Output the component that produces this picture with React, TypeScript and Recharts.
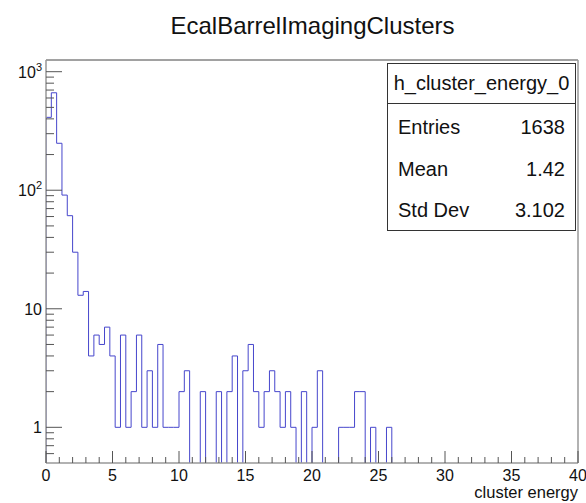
import { ComposedChart, Line, XAxis, YAxis, ReferenceLine } from 'recharts';

const title = 'EcalBarrelImagingClusters';
const xTitle = 'cluster energy';
const histName = 'h_cluster_energy_0';
const statLabels = ['Entries', 'Mean', 'Std Dev'];
const statValues = ['1638', '1.42', '3.102'];

// 100 bins of 0.4 from 0 to 40
const binWidth = 0.4;
const counts = [
    412, 664, 249, 91, 61, 30, 13, 14, 4, 6,
    5, 7, 4, 1, 6, 1, 2, 6, 1, 3,
    1, 5, 1, 1, 1, 2, 3, 0, 0, 2,
    0, 0, 2, 0, 2, 4, 0, 3, 5, 2,
    1, 2, 3, 2, 1, 2, 1, 0, 2, 0,
    1, 3, 0, 0, 0, 1, 1, 1, 2, 2,
    0, 1, 0, 0, 1, 0, 0, 0, 0, 0,
    0, 0, 0, 0, 0, 0, 0, 0, 0, 0,
    0, 0, 0, 0, 0, 0, 0, 0, 0, 0,
    0, 0, 0, 0, 0, 0, 0, 0, 0, 0,
];

const xDomain = [0, 40];
const yDomain = [0.5, 1255];
const xTicks = [
    0, 1, 2, 3, 4, 5, 6, 7, 8, 9, 10, 11, 12, 13, 14, 15, 16, 17, 18, 19, 20,
    21, 22, 23, 24, 25, 26, 27, 28, 29, 30, 31, 32, 33, 34, 35, 36, 37, 38, 39, 40,
];
const xLabelTicks = [0, 5, 10, 15, 20, 25, 30, 35, 40];
const yTicks = [
    0.6, 0.7, 0.8, 0.9, 1, 2, 3, 4, 5, 6, 7, 8, 9,
    10, 20, 30, 40, 50, 60, 70, 80, 90,
    100, 200, 300, 400, 500, 600, 700, 800, 900, 1000,
];
const yDecades = [1, 10, 100, 1000];

// empty bins go below the frame and get clipped, like ROOT drops to the axis
const emptyLevel = 0.1;
const data = [
    { x: 0, n: emptyLevel },
    ...counts.map((c, i) => ({ x: +(i * binWidth).toFixed(1), n: c > 0 ? c : emptyLevel })),
    { x: xDomain[1], n: emptyLevel },
];

const FONT = '"Liberation Sans", Arial, Helvetica, sans-serif';

function XTick({ x, y, payload }: any) {
    const major = xLabelTicks.includes(payload.value);
    return (
        <g>
            <line x1={x} y1={y} x2={x} y2={y - (major ? 12 : 6)} stroke="#555" />
            {major && (
                <text x={x} y={y + 18} textAnchor="middle" fontSize={16} fontFamily={FONT} fill="#111">
                    {payload.value}
                </text>
            )}
        </g>
    );
}

function YTick({ x, y, payload }: any) {
    const v = payload.value;
    const major = yDecades.includes(v);
    const exp = Math.round(Math.log10(v));
    return (
        <g>
            <line x1={x} y1={y} x2={x + (major ? 16 : 8)} y2={y} stroke="#555" />
            {major && (
                <text x={x - 4} y={y + 6} textAnchor="end" fontSize={16} fontFamily={FONT} fill="#111">
                    {exp < 2 ? (
                        v
                    ) : (
                        <>
                            <tspan>10</tspan>
                            <tspan dy={-7} fontSize={11}>{exp}</tspan>
                        </>
                    )}
                </text>
            )}
        </g>
    );
}

export default function App() {
    return (
        <div style={{ position: 'absolute', left: 0, top: 0, width: 586, height: 503, background: '#fff' }}>
            <ComposedChart
                width={586}
                height={503}
                data={data}
                margin={{ top: 60, right: 8, bottom: 0, left: 0 }}
            >
                <XAxis
                    type="number"
                    dataKey="x"
                    domain={xDomain}
                    ticks={xTicks}
                    interval={0}
                    tickSize={0}
                    tickMargin={0}
                    height={40}
                    allowDataOverflow
                    axisLine={{ stroke: '#999', strokeWidth: 1.5 }}
                    tick={(p: any) => <XTick {...p} />}
                />
                <YAxis
                    type="number"
                    scale="log"
                    domain={yDomain}
                    ticks={yTicks}
                    interval={0}
                    tickSize={0}
                    tickMargin={0}
                    width={46}
                    allowDataOverflow
                    axisLine={{ stroke: '#999', strokeWidth: 1.5 }}
                    tick={(p: any) => <YTick {...p} />}
                />
                <ReferenceLine y={yDomain[1]} stroke="#444" />
                <ReferenceLine x={xDomain[1]} stroke="#999" strokeWidth={1.5} />
                <Line
                    type="stepAfter"
                    dataKey="n"
                    stroke="#4646cc"
                    strokeWidth={1}
                    dot={false}
                    activeDot={false}
                    isAnimationActive={false}
                />
            </ComposedChart>
            <svg
                width={586}
                height={503}
                style={{ position: 'absolute', left: 0, top: 0, pointerEvents: 'none' }}
                fontFamily={FONT}
            >
                <text x={312.5} y={34} textAnchor="middle" fontSize={24} fill="#111">
                    {title}
                </text>
                <text x={578} y={498} textAnchor="end" fontSize={16.5} fill="#111">
                    {xTitle}
                </text>
                <rect x={387.5} y={63.5} width={188} height={167} fill="#fff" stroke="#333" />
                <line x1={387.5} y1={103.5} x2={575.5} y2={103.5} stroke="#333" />
                <text x={481.5} y={90} textAnchor="middle" fontSize={20} fill="#111">
                    {histName}
                </text>
                {statLabels.map((s, i) => (
                    <g key={s}>
                        <text x={398} y={134 + i * 41.5} fontSize={20} fill="#111">
                            {s}
                        </text>
                        <text x={565} y={134 + i * 41.5} textAnchor="end" fontSize={20} fill="#111">
                            {statValues[i]}
                        </text>
                    </g>
                ))}
            </svg>
        </div>
    );
}
